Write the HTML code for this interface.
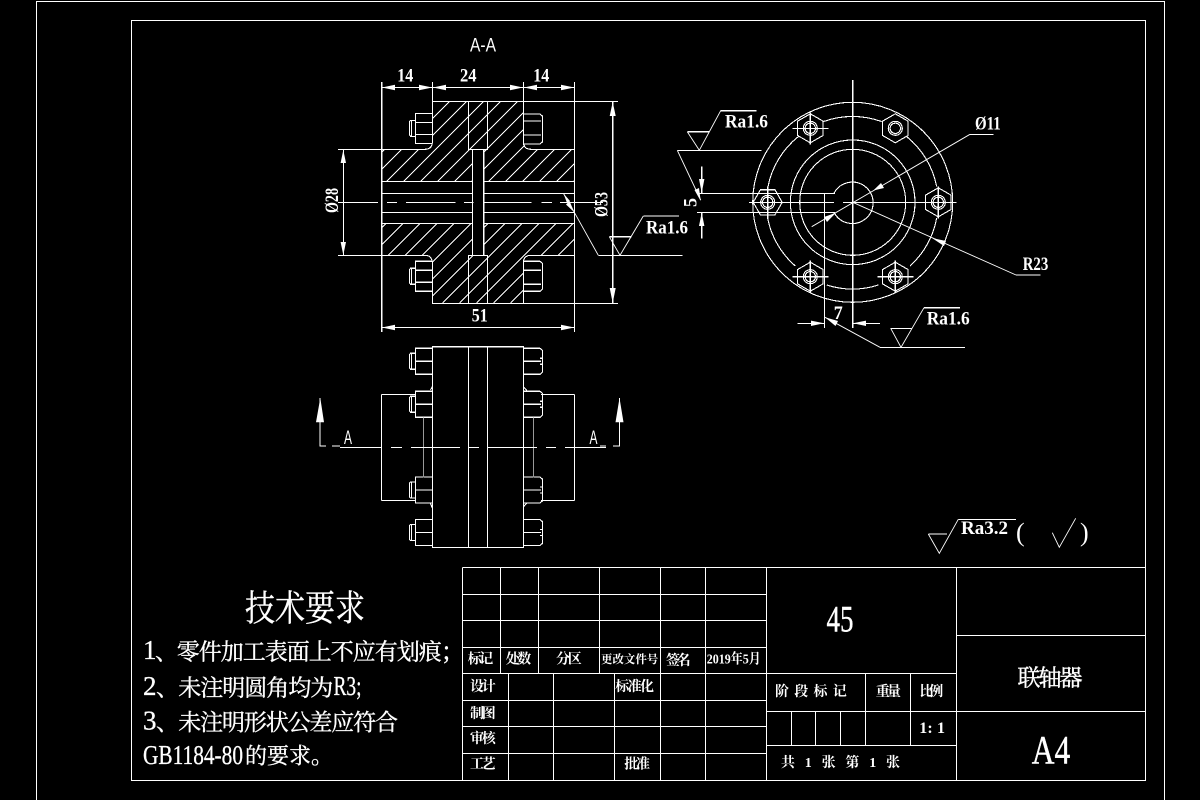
<!DOCTYPE html>
<html>
<head>
<meta charset="utf-8">
<style>
html,body{margin:0;padding:0;background:#000;width:1200px;height:800px;overflow:hidden}
svg{display:block}
.l{fill:none;stroke:#fff;stroke-width:1.1;shape-rendering:crispEdges}
.t{stroke-width:.9;shape-rendering:auto}
.a{fill:#fff;stroke:none}
text{fill:#fff}
.d{font-family:"Liberation Serif","Noto Serif CJK SC",serif;font-weight:bold;font-size:19px}
.c{font-family:"Liberation Serif","Noto Serif CJK SC",serif;font-weight:bold;font-size:14px;dominant-baseline:central}
.b{font-family:"Noto Serif CJK SC",serif;font-size:23px;dominant-baseline:central;stroke:#fff;stroke-width:.35}
.n{font-family:"Liberation Serif",serif;font-size:27px;dominant-baseline:central;stroke:#fff;stroke-width:.3}
.s{font-family:"Liberation Sans",sans-serif;font-size:19px}
</style>
</head>
<body>
<svg width="1200" height="800" viewBox="0 0 1200 800" xmlns="http://www.w3.org/2000/svg">
<defs>
<clipPath id="c1"><path d="M432.3 101.3H468.3V101.3H487.3V149.3H472.3V181.3H381.7V149.3H427L432.3 144Z"/><path d="M468.3 101.3H523.3V144L530 149.3H574.3V181.3H483.7V149.3H468.3Z"/></clipPath>
<clipPath id="c2"><path d="M432.3 303.3H487.3V255.3H472.3V223.3H381.7V255.3H427L432.3 261Z"/><path d="M468.3 303.3H523.3V261L530 255.3H574.3V223.3H483.7V255.3H468.3Z"/></clipPath>
<g id="boltL"><path class="l" d="M432.3 -15H415.3V15H432.3M415.3 -6H432.3M415.3 6H432.3M415.3 -8H410.5L409.3 -6.5V6.5L410.5 8H415.3M411.5 -8V8"/></g>
<g id="boltR"><path class="l" d="M523.3 -15H540L542.3 -13V13L540 15H523.3M523.3 -8H541M523.3 6H541"/></g>
<g id="elL"><path class="l" d="M432.3 -13H415.3V13H432.3M415.3 0H432.3M415.3 -8H410.5L409.3 -6.5V6.5L410.5 8H415.3M411.5 -8V8"/></g>
<g id="elR"><path class="l" d="M523.3 -13H540L542.3 -11V11L540 13H523.3M523.3 0H541M540 -3H542.3M540 3H542.3"/></g>
<g id="hexP"><polygon class="l" points="0,-14.5 12.6,-7.25 12.6,7.25 0,14.5 -12.6,7.25 -12.6,-7.25"/><circle class="l" r="7"/><circle class="l" r="5.2"/></g>
<g id="hexF"><polygon class="l" points="-14.5,0 -7.25,-12.6 7.25,-12.6 14.5,0 7.25,12.6 -7.25,12.6"/><circle class="l" r="7"/><circle class="l" r="5.2"/></g>
<path id="cross" class="l" d="M-18 0H18M0 -16V16"/>
</defs>
<rect width="1200" height="800" fill="#000"/>

<!-- frames -->
<path class="l" d="M36.5 800V1.5H1164.5V800"/>
<rect class="l" x="131.5" y="20.5" width="1014" height="760"/>

<!-- section hatch -->
<g clip-path="url(#c1)"><path class="l" d="M382 101L301 182M399 101L318 182M416 101L335 182M433 101L352 182M450 101L369 182M467 101L386 182M484 101L403 182M501 101L420 182M518 101L437 182M535 101L454 182M552 101L471 182M569 101L488 182M586 101L505 182M603 101L522 182M620 101L539 182M637 101L556 182M654 101L573 182"/></g>
<g clip-path="url(#c2)"><path class="l" d="M386.7 223L306.7 303M403.7 223L323.7 303M420.7 223L340.7 303M437.7 223L357.7 303M454.7 223L374.7 303M471.7 223L391.7 303M488.7 223L408.7 303M505.7 223L425.7 303M522.7 223L442.7 303M539.7 223L459.7 303M556.7 223L476.7 303M573.7 223L493.7 303M590.7 223L510.7 303M607.7 223L527.7 303M624.7 223L544.7 303M641.7 223L561.7 303M658.7 223L578.7 303"/></g>

<!-- section outline -->
<path class="l" d="M432.3 143V101.3H523.3V143Q524 149.3 531 149.3H574.3V255.3H531Q524 255.3 523.3 262V303.3H432.3V262Q431.5 255.3 425 255.3H381.7V149.3H425Q431.5 149.3 432.3 143Z"/>
<path class="l" d="M468.3 101.3V149.3H487.3V101.3M468.3 303.3V255.3H487.3V303.3M472.3 149.3V255.3M483.7 149.3V255.3"/>
<path class="l" d="M381.7 181.3H472.3M483.7 181.3H574.3M381.7 193.3H472.3M483.7 193.3H574.3M381.7 212.3H472.3M483.7 212.3H574.3M381.7 223.3H472.3M483.7 223.3H574.3"/>
<path class="l" d="M338 202.5H378M387 202.5H397M406 202.5H455.7M464 202.5H473.5M483.7 202.5H531.7M541.7 202.5H552M560 202.5H603"/>
<use href="#boltL" y="128.3"/><use href="#boltR" y="129"/>
<use href="#boltL" transform="translate(0,276.3) scale(1,-1)"/><use href="#boltR" transform="translate(0,276.3) scale(1,-1)"/>

<!-- section dims -->
<path class="l" d="M381.7 82V332M574.3 82V332M432.5 82V101M523.3 82V101M381.7 87.5H574.3M381.7 327.5H574.3M523 101.3H618M432 303.3H618M612.7 101.3V303.3M338 149.3H381.7M338 255.3H381.7M343.3 149.3V255.3"/>
<g>
<polygon class="a" points="382,87.5 395,84.8 395,90.2"/><polygon class="a" points="432.3,87.5 419,84.8 419,90.2"/>
<polygon class="a" points="433,87.5 446,84.8 446,90.2"/><polygon class="a" points="523,87.5 510,84.8 510,90.2"/>
<polygon class="a" points="524,87.5 537,84.8 537,90.2"/><polygon class="a" points="574.3,87.5 561,84.8 561,90.2"/>
<polygon class="a" points="382,327.5 395,324.8 395,330.2"/><polygon class="a" points="574.3,327.5 561,324.8 561,330.2"/>
<polygon class="a" points="343.3,150 340.6,163 346,163"/><polygon class="a" points="343.3,255 340.6,242 346,242"/>
<polygon class="a" points="612.7,102 609.7,116 615.7,116"/><polygon class="a" points="612.7,303 609.7,288 615.7,288"/>
</g>
<text class="d" x="397.3" y="81.7" textLength="16" lengthAdjust="spacingAndGlyphs">14</text>
<text class="d" x="460" y="81.7" textLength="16.5" lengthAdjust="spacingAndGlyphs">24</text>
<text class="d" x="533.3" y="81.7" textLength="16" lengthAdjust="spacingAndGlyphs">14</text>
<text class="d" x="471.7" y="321.7" textLength="16" lengthAdjust="spacingAndGlyphs">51</text>
<text class="d" transform="translate(338,213) rotate(-90)" textLength="25" lengthAdjust="spacingAndGlyphs">Ø28</text>
<text class="d" transform="translate(607.7,217) rotate(-90)" textLength="25" lengthAdjust="spacingAndGlyphs">Ø53</text>
<text class="s" x="470" y="51.7" textLength="26" lengthAdjust="spacingAndGlyphs">A-A</text>

<!-- section leader Ra1.6 -->
<path class="l t" d="M563.5 193.5L574.3 212.3L598.3 255.3"/>
<polygon class="a" points="563.5,193.5 570,201 567,203"/>
<polygon class="a" points="574.3,212.3 566,204.5 569.5,201"/>
<path class="l" d="M598.3 255.3H682.7M643.3 216H679M609.3 236.7H631.7"/>
<path class="l t" d="M609.3 236.7L620 255.3L643.3 216"/>
<text class="d" x="646" y="233.3" textLength="42" lengthAdjust="spacingAndGlyphs">Ra1.6</text>

<!-- end view -->
<g>
<circle class="l" cx="852.7" cy="202.3" r="100"/>
<circle class="l" cx="852.7" cy="202.3" r="62.3"/>
<circle class="l" cx="852.7" cy="202.3" r="53"/>
<path class="l" d="M834 193.3A20.7 20.7 0 1 1 834 212.3"/>
<path class="l" d="M823.4 121.6A85.3 85.3 0 0 1 881.7 121.6M906.7 136.6A85.3 85.3 0 0 1 936.7 186.6M936.7 218A85.3 85.3 0 0 1 910 266M878.4 285A85.3 85.3 0 0 1 826.7 285M795.3 266A85.3 85.3 0 0 1 767.6 218M768 186.6A85.3 85.3 0 0 1 798.3 136.6"/>
<use href="#hexP" x="810.3" y="128.3"/><use href="#cross" x="810.3" y="128.3"/>
<use href="#hexP" x="895.3" y="128.3"/>
<use href="#hexF" x="767.7" y="202.3"/><use href="#cross" x="767.7" y="202.3"/>
<use href="#hexP" x="938.3" y="202.3"/><use href="#cross" x="938.3" y="202.3"/>
<use href="#hexP" x="810.3" y="276.7"/><use href="#cross" x="810.3" y="276.7"/>
<use href="#hexP" x="895.3" y="276.7"/><use href="#cross" x="895.3" y="276.7"/>
<path class="l" d="M852.7 80V328M749 202.5H834M843 202.5H956"/>
<path class="l" d="M698 193.3H835M697 212.3H835M824.3 193.3V328"/>
</g>
<!-- O11 -->
<path class="l t" d="M811.7 226.7L970 134.3"/>
<path class="l" d="M970 134.3H993.3"/>
<polygon class="a" points="873.3,190.5 881,183 884,188"/>
<polygon class="a" points="836,212.7 824,217 827,222"/>
<text class="d" x="975" y="129.3" textLength="25.7" lengthAdjust="spacingAndGlyphs">Ø11</text>
<!-- R23 -->
<path class="l t" d="M852.7 202.3L1016 275"/>
<path class="l" d="M1016 275H1040.7"/>
<polygon class="a" points="932,238 946,241 944,246"/>
<text class="d" x="1022.7" y="270" textLength="25.6" lengthAdjust="spacingAndGlyphs">R23</text>
<!-- 5 dim -->
<path class="l" d="M701.7 166.7V193.3M701.7 212.3V238.5"/>
<polygon class="a" points="701.7,193 699,179 704.4,179"/>
<polygon class="a" points="701.7,212.5 699,226 704.4,226"/>
<text class="d" transform="translate(696.7,207) rotate(-90)" textLength="9" lengthAdjust="spacingAndGlyphs">5</text>
<!-- Ra1.6 left -->
<path class="l" d="M677.3 150.3H761.7M687.3 131.7H709.3M720.7 110.7H756.7"/>
<path class="l t" d="M677.3 150.3L700.7 200M687.3 131.7L699.3 150.3L720.7 110.7"/>
<polygon class="a" points="700.7,201 694.5,190 699,188"/>
<text class="d" x="725" y="127.7" textLength="43" lengthAdjust="spacingAndGlyphs">Ra1.6</text>
<!-- 7 dim -->
<path class="l" d="M797.3 323.3H824.3M852.7 323.3H880"/>
<polygon class="a" points="824,323.3 811,320.6 811,326"/>
<polygon class="a" points="853,323.3 866,320.6 866,326"/>
<text class="d" x="833.7" y="319" textLength="9" lengthAdjust="spacingAndGlyphs">7</text>
<path class="l t" d="M825 317.3L880 347.3M890.7 328.3L901 347.3L924 307.7"/>
<polygon class="a" points="825,317.3 838,321 835.5,326"/>
<path class="l" d="M880 347.3H965M890.7 328.3H911.7M924 307.7H960"/>
<text class="d" x="926.7" y="324.3" textLength="43" lengthAdjust="spacingAndGlyphs">Ra1.6</text>

<!-- elevation view -->
<path class="l" d="M381.5 394.5H415.3M381.5 500.5H415.3M541 394.5H574.3M541 500.5H574.3M381.5 394.5V500.5M574.3 394.5V500.5"/>
<rect class="l" x="432.5" y="346.7" width="91" height="200.6"/>
<path class="l" d="M468.3 346.7V547.3M487.3 346.7V547.3"/>
<use href="#elL" y="361.3"/><use href="#elL" y="404.3"/><use href="#elL" y="490"/><use href="#elL" y="532.5"/>
<use href="#elR" y="361.3"/><use href="#elR" y="404.3"/><use href="#elR" y="490"/><use href="#elR" y="532.5"/>
<path d="M423.3 417.5V477.5M533.3 417.5V477.5" stroke="#999" stroke-width="1" fill="none" shape-rendering="crispEdges"/>
<path class="l" d="M430.5 390L432.3 386.7M430.5 503.5L432.3 508M523.3 387L527 390.5M523.3 507L527 503"/>
<path class="l" d="M340 447.5H381.7M391 447.5H402M411 447.5H460M469 447.5H479M487.3 447.5H537M546 447.5H556M565 447.5H606"/>
<path class="l" d="M320 398V446H326M332 446H340M619.3 398V446H613M606 446H600"/>
<polygon class="a" points="320.3,398 324,422.3 316,422.3"/>
<polygon class="a" points="619.5,398 623.5,422.3 615.5,422.3"/>
<text class="s" x="344" y="444" textLength="8" lengthAdjust="spacingAndGlyphs">A</text>
<text class="s" x="589.5" y="444" textLength="8" lengthAdjust="spacingAndGlyphs">A</text>

<!-- Ra3.2 -->
<path class="l" d="M928.3 534H947M958.3 519.3H1016"/>
<path class="l t" d="M928.3 534L939.3 553.3L958.3 519.3M1052.3 532.7L1059.3 547.3L1075.7 518.3"/>
<text class="d" x="961" y="534" textLength="47" lengthAdjust="spacingAndGlyphs">Ra3.2</text>
<text class="d" x="1016" y="541" style="font-size:26px;font-weight:normal">(</text>
<text class="d" x="1080" y="541" style="font-size:26px;font-weight:normal">)</text>

<!-- title block lines -->
<path class="l" d="M462.5 567.5H1145M462.5 594.5H766.5M462.5 620.5H766.5M462.5 647.5H766.5M462.5 673.5H956.5M462.5 700.5H766.5M462.5 726.5H766.5M462.5 753.5H766.5M462.5 567.5V780.5M766.5 567.5V780.5M956.5 567.5V780.5M956.5 635.5H1145M956.5 711.5H1145M766.5 711.5H956.5M766.5 745.5H956.5"/>
<path class="l" d="M500.5 567.5V673.5M538.5 567.5V673.5M599.5 567.5V673.5M660.5 567.5V780.5M705.5 567.5V780.5M508.5 673.5V780.5M553.5 673.5V780.5M614.5 673.5V780.5M865.5 673.5V745.5M910.5 673.5V745.5M791.5 711.5V745.5M815.5 711.5V745.5M840.5 711.5V745.5"/>

<!-- title block text -->
<text class="c" x="467.7" y="660" textLength="25.6">标记</text>
<text class="c" x="505.7" y="660" textLength="25.6">处数</text>
<text class="c" x="556" y="660" textLength="25.7">分区</text>
<text class="c" x="601" y="660" textLength="57.3" style="font-size:11.5px">更改文件号</text>
<text class="c" x="666" y="661.5" textLength="24.7">签名</text>
<text class="c" x="706.7" y="660" textLength="54" lengthAdjust="spacingAndGlyphs">2019年5月</text>
<text class="c" x="470" y="687.3" textLength="25.7">设计</text>
<text class="c" x="470" y="714.3" textLength="25.7">制图</text>
<text class="c" x="470" y="739.3" textLength="25.7">审核</text>
<text class="c" x="470" y="765" textLength="25.7">工艺</text>
<text class="c" x="615.3" y="687.3" textLength="38.7">标准化</text>
<text class="c" x="624.3" y="765" textLength="25.7">批准</text>
<text class="c" x="775" y="692.7" textLength="71.7">阶段标记</text>
<text class="c" x="875.7" y="692.7" textLength="25.3">重量</text>
<text class="c" x="919.3" y="692.7" textLength="24">比例</text>
<text class="c" x="919.3" y="728.3" textLength="25.7" style="font-size:16px">1: 1</text>
<text class="c" x="781" y="763.3" textLength="119">共 1 张 第 1 张</text>
<text x="826.5" y="631.7" font-family="'Liberation Serif',serif" font-size="37" stroke="#fff" stroke-width=".4" textLength="27" lengthAdjust="spacingAndGlyphs">45</text>
<text x="1031.7" y="763.3" font-family="'Liberation Serif',serif" font-size="40" stroke="#fff" stroke-width=".4" textLength="38.5" lengthAdjust="spacingAndGlyphs">A4</text>
<text x="1017.5" y="676" font-family="'Noto Serif CJK SC',serif" font-size="23" stroke="#fff" stroke-width=".4" dominant-baseline="central" textLength="65">联轴器</text>

<!-- tech requirements -->
<text transform="translate(245,606) scale(1,1.2)" font-family="'Noto Serif CJK SC',serif" font-size="30" stroke="#fff" stroke-width=".3" dominant-baseline="central" textLength="120">技术要求</text>
<text class="n" x="143" y="650">1</text><text class="b" x="155" y="650">、</text>
<text class="b" x="176.7" y="650" textLength="265">零件加工表面上不应有划痕</text>
<text class="n" x="443" y="650" textLength="7" lengthAdjust="spacingAndGlyphs">;</text>
<text class="n" x="143" y="686">2</text><text class="b" x="156" y="686">、</text>
<text class="b" x="178.3" y="686" textLength="155">未注明圆角均为</text>
<text class="n" x="333.5" y="686" textLength="28" lengthAdjust="spacingAndGlyphs">R3;</text>
<text class="n" x="143" y="720.7">3</text><text class="b" x="156" y="720.7">、</text>
<text class="b" x="178.3" y="720.7" textLength="219.7">未注明形状公差应符合</text>
<text class="n" x="143" y="755" textLength="100" lengthAdjust="spacingAndGlyphs">GB1184-80</text>
<text class="b" x="245" y="755" style="font-size:22px">的要求。</text>
</svg>
</body>
</html>
